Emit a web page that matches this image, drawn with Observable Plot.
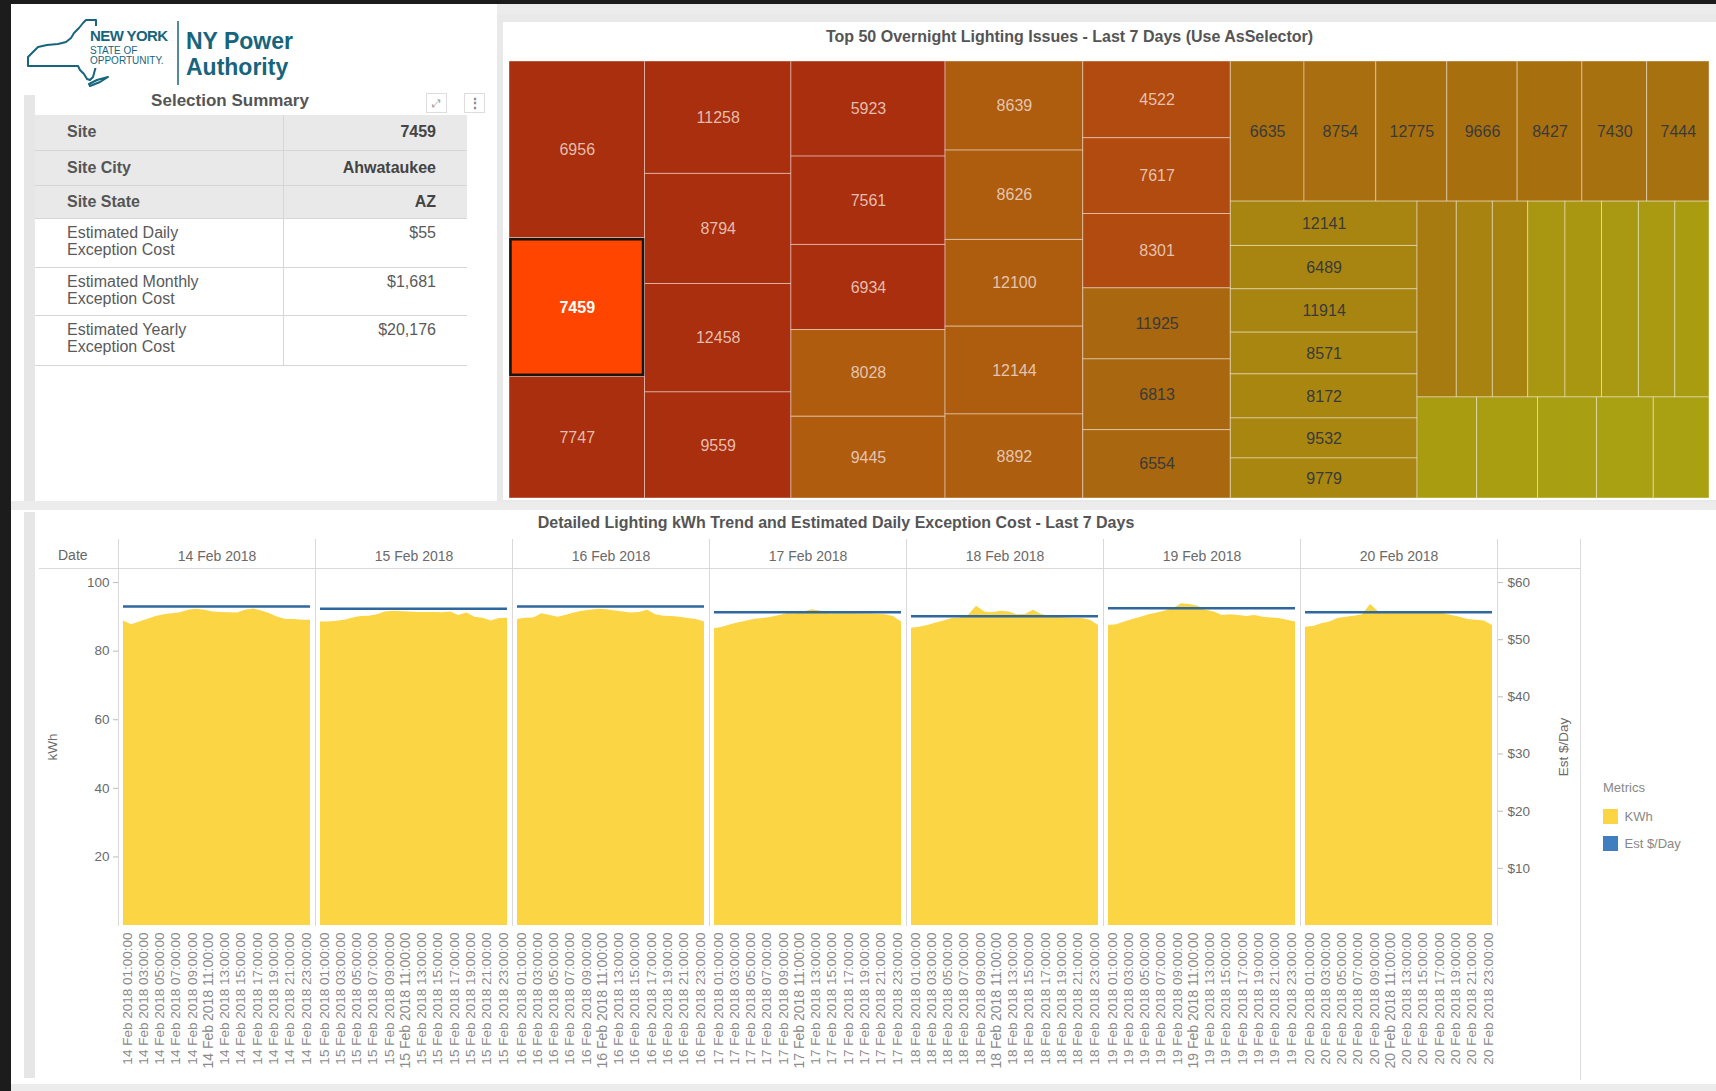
<!DOCTYPE html>
<html><head><meta charset="utf-8">
<script src="https://cdn.jsdelivr.net/npm/d3@7"></script>
<script src="https://cdn.jsdelivr.net/npm/@observablehq/plot@0.6"></script>
<style>
body{margin:0;width:1716px;height:1091px;background:#1c1c1c;position:relative;overflow:hidden;font-family:"Liberation Sans",Arial,sans-serif;}
.abs{position:absolute;}
#summary table{border-collapse:collapse;table-layout:fixed;width:432px;font-size:16px;}
#summary td{border-bottom:1px solid #d6d6d6;padding:0;}
#summary td.v{border-left:1px solid #d6d6d6;text-align:right;padding-right:31px;}
#summary td.l{padding-left:32px;}
#summary tr.hdr td{background:#e9e9e9;font-weight:bold;color:#555;vertical-align:middle;}
#summary tr.hdr td.v{color:#444;}
#summary tr.num td{vertical-align:top;color:#5a5a5a;line-height:17px;padding-top:5px;}
.mlg-swatch{margin-bottom:11px;}
</style></head><body>
<div class="abs" style="left:11px;top:4px;width:1705px;height:1087px;background:#ececec"></div>
<!-- logo -->
<div class="abs" style="left:11px;top:4px;width:486px;height:84px;background:#fff"></div>
<svg class="abs" style="left:0;top:0" width="300" height="95">
  <path d="M28,66 L28,57 L33,52 L38,47 L47,45 L58,44 L66,42 L71,38 L74,33 L79,28 L83,23 L86,20 L96,20 L96,66 L93,77 L90,80 L87,79 L84,74 L80,70 L78,66 Z M89,84 L97,80 L108,77 L100,82 L90,86 Z" fill="none" stroke="#17657c" stroke-width="2" stroke-linejoin="round"/>
  <rect x="88" y="26" width="80" height="42" fill="#fff"/>
  <text x="90" y="41" font-size="15" font-weight="bold" fill="#17657c" letter-spacing="-0.6">NEW YORK</text>
  <text x="90" y="54" font-size="10" fill="#17657c">STATE OF</text>
  <text x="90" y="64" font-size="10" fill="#17657c">OPPORTUNITY.</text>
  <line x1="178" y1="21" x2="178" y2="85" stroke="#17657c" stroke-width="1.5"/>
  <text x="186" y="49" font-size="23" font-weight="bold" fill="#17657c">NY Power</text>
  <text x="186" y="75" font-size="23" font-weight="bold" fill="#17657c">Authority</text>
</svg>
<!-- summary panel -->
<div class="abs" style="left:11px;top:88px;width:486px;height:413px;background:#fff"></div>
<div class="abs" style="left:24px;top:95px;width:11px;height:406px;background:#e6e6e6"></div>
<div class="abs" style="left:35px;top:91px;width:390px;text-align:center;font-size:17px;font-weight:bold;color:#555">Selection Summary</div>
<div class="abs" style="left:426px;top:93px;width:19px;height:18px;border:1px solid #ddd;color:#999;font-size:11px;text-align:center;line-height:18px">⤢</div>
<div class="abs" style="left:464px;top:93px;width:19px;height:18px;border:1px solid #ddd;color:#888;font-size:14px;text-align:center;line-height:18px;font-weight:bold">⋮</div>
<div id="summary" class="abs" style="left:35px;top:115px"></div>
<!-- treemap panel -->
<div class="abs" style="left:497px;top:14px;width:1219px;height:488px;background:#e9e9e9"></div>
<div class="abs" style="left:503px;top:22px;width:1213px;height:478px;background:#fff"></div>
<div id="tmTitle" class="abs" style="left:503px;top:28px;width:1133px;text-align:center;font-size:16px;font-weight:bold;color:#555"></div>
<div id="treemap" class="abs" style="left:509px;top:61px"></div>
<!-- bottom panel -->
<div class="abs" style="left:11px;top:510px;width:1705px;height:574px;background:#fff"></div>
<div class="abs" style="left:24px;top:512px;width:11px;height:566px;background:#e6e6e6"></div>
<div id="trendTitle" class="abs" style="left:35px;top:514px;width:1602px;text-align:center;font-size:16px;font-weight:bold;color:#555"></div>
<div class="abs" style="left:1580px;top:539px;width:1px;height:541px;background:#dcdcdc"></div>
<div class="abs" style="left:58px;top:547px;font-size:14px;color:#666">Date</div>
<div id="trend" class="abs" style="left:36px;top:539px"></div>
<div id="legend" class="abs" style="left:1603px;top:780px;font-size:13px;color:#888"><div style="margin-bottom:14px">Metrics</div></div>
<script>
// ---------- Selection summary ----------
const summaryLabels = ["Site", "Site City", "Site State", "Estimated Daily|Exception Cost", "Estimated Monthly|Exception Cost", "Estimated Yearly|Exception Cost"];
const summaryValues = ["7459", "Ahwataukee", "AZ", "$55", "$1,681", "$20,176"];
const summaryRowHeights = [35, 35, 33, 49, 48, 50];

// ---------- Treemap data (layout order, largest first) ----------
const treemapTitle = "Top 50 Overnight Lighting Issues - Last 7 Days (Use AsSelector)";
const selectedSite = "7459";
const siteIds = ["6956","7459","7747","11258","8794","12458","9559","5923","7561","6934","8028","9445",
  "8639","8626","12100","12144","8892","4522","7617","8301","11925","6813","6554",
  "6635","8754","12775","9666","8427","7430","7444",
  "12141","6489","11914","8571","8172","9532","9779",
  "","","","","","","","", "","","","",""];
const siteKwh = [23965,18781,16501, 16463,16126,15877,15540, 14659,13625,13116,13378,12606,
  12273,12314,11956,12094,11584, 11328,11181,10974,10487,10442,10088,
  10332,10066,9954,9856,9072,9086,8736,
  8284,8097,8097,7798,8228,7480,7480,
  7691,7065,6928,7300,7163,7221,7143,6693,
  6030,6151,5959,5747,5636];
const siteIntensity = [1,1,1, 1,1,1,1, 1,1,1,0.64,0.64,
  0.63,0.63,0.63,0.63,0.62, 0.8,0.8,0.8,0.52,0.52,0.52,
  0.46,0.46,0.45,0.45,0.45,0.44,0.44,
  0.28,0.28,0.28,0.27,0.27,0.27,0.27,
  0.36,0.3,0.3,0.15,0.14,0.13,0.12,0.1,
  0.1,0.09,0.08,0.07,0.06];

// ---------- Trend data ----------
const trendTitle = "Detailed Lighting kWh Trend and Estimated Daily Exception Cost - Last 7 Days";
const dates = ["14 Feb 2018","15 Feb 2018","16 Feb 2018","17 Feb 2018","18 Feb 2018","19 Feb 2018","20 Feb 2018"];
const hours = [0,1,2,3,4,5,6,7,8,9,10,11,12,13,14,15,16,17,18,19,20,21,22,23];
const kwh14 = [88.8,87.7,88.5,89.3,90.1,90.6,90.9,91.2,91.9,92.2,91.9,91.4,91.3,91.2,91.1,91.9,92.3,91.7,90.9,89.9,89.2,89.2,89.0,89.0];
const kwh15 = [88.5,88.5,88.7,89.0,89.7,90.1,90.2,90.6,91.4,91.6,91.5,91.4,91.3,91.3,91.3,91.2,91.4,90.4,91.1,89.9,89.6,88.8,89.5,89.6];
const kwh16 = [89.2,89.6,89.7,90.9,90.4,89.9,90.5,91.1,91.6,91.9,92.2,92.1,91.7,91.4,91.1,91.3,91.9,90.6,90.2,90.1,89.9,89.5,89.2,88.5];
const kwh17 = [86.5,87.0,87.7,88.3,88.8,89.3,89.5,89.9,90.4,90.9,90.9,91.4,92.1,91.7,90.9,90.9,90.9,90.9,90.8,90.8,90.7,90.6,90.1,88.5];
const kwh18 = [86.7,87.0,87.5,88.2,88.8,89.5,89.7,90.4,93.1,91.4,91.2,91.6,91.4,90.6,90.7,91.9,90.7,90.2,89.9,89.7,89.5,89.5,89.0,87.5];
const kwh19 = [87.5,87.7,88.5,89.2,89.9,90.6,91.1,91.7,92.4,93.8,93.6,93.1,91.9,91.4,90.4,90.6,90.4,90.1,90.4,89.9,89.7,89.5,89.0,88.5];
const kwh20 = [87.0,87.2,88.0,88.5,89.5,89.9,90.2,90.6,93.6,91.4,91.2,91.1,91.1,91.1,91.1,91.1,91.1,90.9,90.4,89.9,89.2,89.0,88.8,87.5];
const dailyKwh = [kwh14, kwh15, kwh16, kwh17, kwh18, kwh19, kwh20];
const dailyCost = [55.8, 55.4, 55.8, 54.8, 54.1, 55.5, 54.8];
const kwhTicks = [20, 40, 60, 80, 100];
const costTicks = [10, 20, 30, 40, 50, 60];
const tickHours = [1, 3, 5, 7, 9, 11, 13, 15, 17, 19, 21, 23];
const metricNames = ["KWh", "Est $/Day"];
const metricColors = ["#fbd544", "#3f7fbf"];

const FONT = "'Liberation Sans', Arial, sans-serif";

// ---- summary table
{
  const t = document.createElement("table");
  summaryLabels.forEach((lab, i) => {
    const tr = document.createElement("tr");
    tr.className = i < 3 ? "hdr" : "num";
    tr.style.height = summaryRowHeights[i] + "px";
    const a = document.createElement("td"); a.className = "l"; a.style.width = "216px";
    a.innerHTML = lab.split("|").join("<br>");
    const b = document.createElement("td"); b.className = "v";
    b.textContent = summaryValues[i];
    tr.append(a, b); t.append(tr);
  });
  document.getElementById("summary").append(t);
}

// ---- treemap
document.getElementById("tmTitle").textContent = treemapTitle;
{
  const W = 1200, H = 437;
  const stripPlan = [["col",3],["col",4],["col",5],["col",5],["col",6],["row",7],["col",7],["row",8],["row",5]];
  function stripTile(parent, x0, y0, x1, y1) {
    const nodes = parent.children;
    let remaining = parent.value, i = 0;
    for (const [dir, n] of stripPlan) {
      const group = nodes.slice(i, i + n); i += n;
      if (!group.length) break;
      const s = d3.sum(group, d => d.value);
      const row = {value: s, children: group};
      if (dir === "col") {
        const xm = x0 + (x1 - x0) * s / remaining;
        d3.treemapSlice(row, x0, y0, xm, y1); x0 = xm;
      } else {
        const ym = y0 + (y1 - y0) * s / remaining;
        d3.treemapDice(row, x0, y0, x1, ym); y0 = ym;
      }
      remaining -= s;
    }
  }
  const sites = siteIds.map((id, i) => ({id, kwh: siteKwh[i], intensity: siteIntensity[i]}));
  const root = d3.hierarchy({children: sites}).sum(d => d.kwh || 0);
  d3.treemap().size([W, H]).tile(stripTile)(root);
  const leaves = root.leaves().map(n => ({...n.data, x0: n.x0, x1: n.x1, y0: n.y0, y1: n.y1}));
  const chart = Plot.plot({
    width: W, height: H, margin: 0,
    style: {fontFamily: FONT, background: "transparent"},
    x: {domain: [0, W], range: [0, W], axis: null},
    y: {domain: [0, H], range: [0, H], axis: null},
    color: {type: "linear", domain: [0, 0.5, 0.75, 1], range: ["#a9a912", "#a8690f", "#b4520f", "#a92f0e"]},
    marks: [
      Plot.rect(leaves, {x1: "x0", x2: "x1", y1: "y0", y2: "y1", fill: "intensity", stroke: "#ffffff", strokeOpacity: 0.4, strokeWidth: 1}),
      Plot.rect(leaves.filter(d => d.id === selectedSite), {x1: "x0", x2: "x1", y1: "y0", y2: "y1", fill: "#ff4500", stroke: "#151515", strokeWidth: 2.5, inset: 1.5}),
      Plot.text(leaves.filter(d => d.id && d.id !== selectedSite), {x: d => (d.x0 + d.x1) / 2, y: d => (d.y0 + d.y1) / 2, text: "id", fontSize: 16,
        fill: d => d.intensity >= 0.55 ? "#f0d9cd" : "#3a3a3a", fillOpacity: d => d.intensity >= 0.55 ? 0.85 : 1}),
      Plot.text(leaves.filter(d => d.id === selectedSite), {x: d => (d.x0 + d.x1) / 2, y: d => (d.y0 + d.y1) / 2, text: "id", fontSize: 16, fontWeight: "bold", fill: "#ffffff"})
    ]
  });
  document.getElementById("treemap").append(chart);
}

// ---- trend chart
document.getElementById("trendTitle").textContent = trendTitle;
{
  const ratio = d3.max(costTicks) / d3.max(kwhTicks); // $ per kWh-axis unit (dual axis alignment)
  const kwhTable = dates.flatMap((date, i) => hours.map((h, j) => ({date, hour: h, kwh: dailyKwh[i][j]})));
  const costTable = dates.map((date, i) => ({date, cost: dailyCost[i]}));
  const tickTable = dates.flatMap(date => tickHours.map(h => ({date, hour: h, label: `${date} ${String(h).padStart(2, "0")}:00:00`})));
  const W = 1545, H = 536, mL = 79, mR = 82, mT = 29, mB = 150;
  const chart = Plot.plot({
    width: W, height: H, marginLeft: mL, marginRight: mR, marginTop: mT, marginBottom: mB,
    style: {fontFamily: FONT, fontSize: "13.5px", color: "#6a6a6a", background: "transparent", overflow: "visible"},
    fx: {domain: dates, padding: 0, label: null},
    x: {domain: [hours[0], hours[hours.length - 1]], insetLeft: 5, insetRight: 5, axis: null},
    y: {domain: [0, 104.1]},
    marks: [
      Plot.frame({anchor: "left", stroke: "#d9d9d9", strokeOpacity: 1, insetTop: -mT}),
      Plot.frame({anchor: "right", stroke: "#d9d9d9", strokeOpacity: 1, insetTop: -mT}),
      Plot.frame({anchor: "top", stroke: "#d9d9d9", strokeOpacity: 1, insetLeft: -mL, insetRight: -mR}),
      Plot.areaY(kwhTable, {fx: "date", x: "hour", y: "kwh", fill: metricColors[0]}),
      Plot.ruleY(costTable, {fx: "date", y: d => d.cost / ratio, x1: hours[0], x2: hours[hours.length - 1], stroke: "#2f679f", strokeWidth: 2.5}),
      Plot.axisY(kwhTicks, {anchor: "left", tickSize: 5, tickPadding: 4, label: "kWh", labelArrow: "none", labelAnchor: "center", labelOffset: 71, stroke: "#bbb"}),
      Plot.axisY(costTicks.map(c => c / ratio), {anchor: "right", tickSize: 5, tickPadding: 5, tickFormat: d => "$" + Math.round(d * ratio), label: "Est $/Day", labelArrow: "none", labelAnchor: "center", labelOffset: 70, stroke: "#bbb"}),
      Plot.axisFx({anchor: "top", tickSize: 0, tickPadding: 8, label: null, fontSize: 14}),
      Plot.text(tickTable, {fx: "date", x: "hour", text: "label", rotate: -90, textAnchor: "end", frameAnchor: "bottom", dy: 7,
        fontSize: d => d.hour === 11 ? 14 : 13.5, fill: "#8a8a8a"})
    ]
  });
  document.getElementById("trend").append(chart);

  const lg = Plot.legend({color: {type: "ordinal", domain: metricNames, range: metricColors}, legend: "swatches", columns: 1, swatchSize: 15, className: "mlg",
    style: {fontFamily: FONT, fontSize: "13px", color: "#888"}});
  document.getElementById("legend").append(lg);
}
</script>
</body></html>
